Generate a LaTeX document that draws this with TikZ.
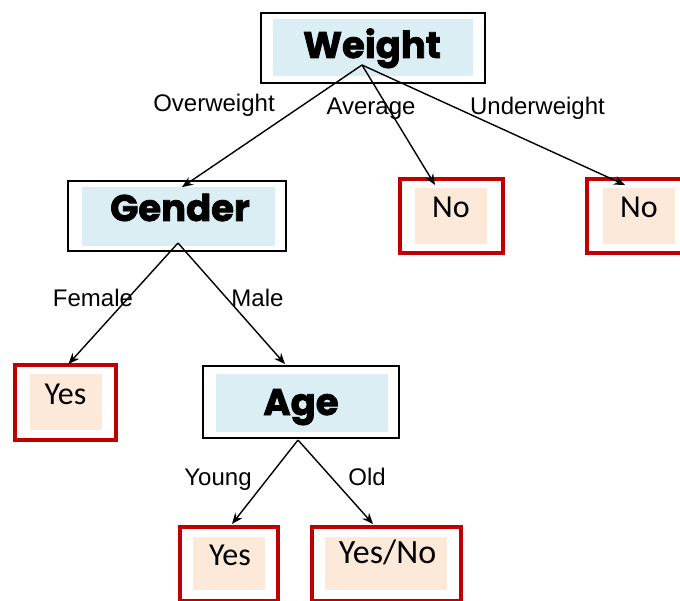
\documentclass[tikz,border=0pt]{standalone}
\usepackage{fontspec}
\setmainfont{Liberation Sans}
\newfontfamily\leaffont{Carlito}
\newfontfamily\headfont{Poppins}[BoldFeatures={FakeBold=2}]
\usetikzlibrary{arrows.meta}
\definecolor{attrblue}{HTML}{DAEEF3}
\definecolor{leafpeach}{HTML}{FDE9D9}
\definecolor{leafred}{HTML}{C00000}
\tikzset{
  attrframe/.style={draw=black, line width=1.8pt, fill=white, inner sep=0pt},
  leafframe/.style={draw=leafred, line width=4pt, fill=white, inner sep=0pt},
  attrfill/.style={fill=attrblue, inner sep=0pt},
  leaffill/.style={fill=leafpeach, inner sep=0pt},
  attrtext/.style={anchor=base, inner sep=0pt, font=\headfont\bfseries\fontsize{37}{40}\selectfont},
  leaftext/.style={anchor=base, inner sep=0pt, font=\leaffont\fontsize{32}{36}\selectfont},
  edgetext/.style={anchor=base, inner sep=0pt, font=\fontsize{24}{27}\selectfont},
  conn/.style={-{Stealth[length=11pt,width=9pt]}, line width=1.4pt},
}
\begin{document}
\begin{tikzpicture}[x=1pt,y=-1pt]
\clip (0,0) rectangle (680,601);

% decision nodes
\node[attrframe, minimum width=224, minimum height=70] (w) at (373,48) {};
\node[attrfill, minimum width=200, minimum height=57] (w-in) at (373,47.5) {};
\node[attrtext] (w-t) at (372,58) {Weight};

\node[attrframe, minimum width=218, minimum height=70] (g) at (177,216) {};
\node[attrfill, minimum width=193, minimum height=59] (g-in) at (178.5,216.5) {};
\node[attrtext] (g-t) at (180,221) {Gender};

\node[attrframe, minimum width=196, minimum height=72] (a) at (301,402) {};
\node[attrfill, minimum width=172, minimum height=58] (a-in) at (302,403) {};
\node[attrtext] (a-t) at (301,415) {Age};

% leaves
\node[leafframe, minimum width=103, minimum height=74] (n1) at (451.5,216) {};
\node[leaffill, minimum width=72, minimum height=56] (n1-in) at (451,216) {};
\node[leaftext] (n1-t) at (451,218) {No};

\node[leafframe, minimum width=103, minimum height=74] (n2) at (638.5,216) {};
\node[leaffill, minimum width=72, minimum height=56] (n2-in) at (639,216) {};
\node[leaftext] (n2-t) at (639,218) {No};

\node[leafframe, minimum width=101, minimum height=75] (y1) at (65.5,402.5) {};
\node[leaffill, minimum width=72, minimum height=56] (y1-in) at (66,402) {};
\node[leaftext] (y1-t) at (65.5,405) {Yes};

\node[leafframe, minimum width=98, minimum height=74] (y2) at (229,564) {};
\node[leaffill, minimum width=72, minimum height=53] (y2-in) at (229,563.5) {};
\node[leaftext] (y2-t) at (230,565) {Yes};

\node[leafframe, minimum width=149, minimum height=74] (yn) at (386.5,564) {};
\node[leaffill, minimum width=122, minimum height=53] (yn-in) at (386,563.5) {};
\node[leaftext, font=\leaffont\fontsize{34}{38}\selectfont] (yn-t) at (387.5,563) {Yes/No};

% branch points
\coordinate (w-j) at (362,65);
\coordinate (g-j) at (178,243);
\coordinate (a-j) at (298,440);

% connectors
\draw[conn] (w-j) -- ([shift={(5,7)}]g.north);
\draw[conn] (w-j) -- ([shift={(-16.5,8)}]n1.north);
\draw[conn] (w-j) -- ([shift={(-13.5,8)}]n2.north);
\draw[conn] (g-j) -- ([shift={(3,1)}]y1.north);
\draw[conn] (g-j) -- ([shift={(-16,-1)}]a.north);
\draw[conn] (a-j) -- ([shift={(3,-1)}]y2.north);
\draw[conn] (a-j) -- ([shift={(-13.5,-1)}]yn.north);

% branch labels
\node[edgetext] (l-over) at (214,112) {Overweight};
\node[edgetext] (l-avg) at (371,115) {Average};
\node[edgetext] (l-under) at (537.5,115) {Underweight};
\node[edgetext] (l-fem) at (93,307) {Female};
\node[edgetext] (l-male) at (257.5,307) {Male};
\node[edgetext] (l-young) at (218,485) {Young};
\node[edgetext] (l-old) at (367,485) {Old};
\end{tikzpicture}
\end{document}
